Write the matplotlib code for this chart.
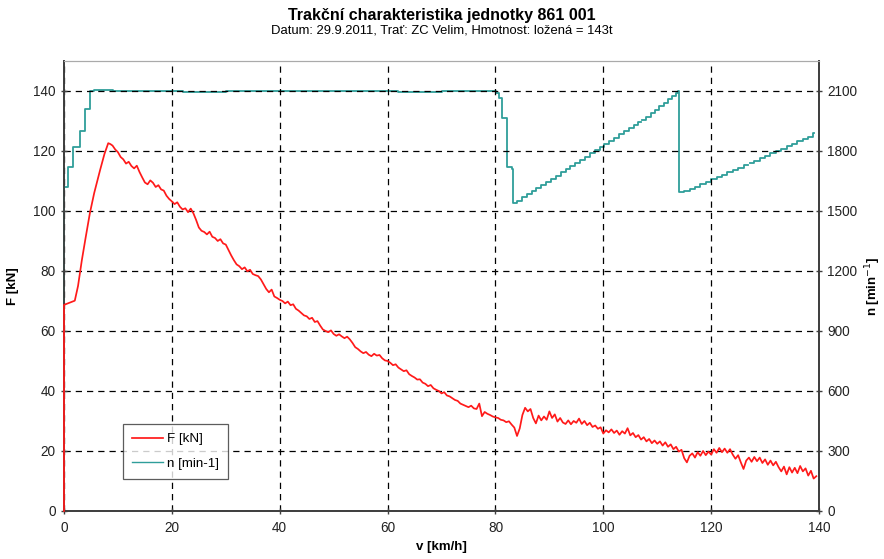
import numpy as np
import matplotlib
matplotlib.use("Agg")
import matplotlib.pyplot as plt

plt.rcParams['font.family'] = ['Liberation Sans', 'DejaVu Sans']

# ---- data ----
# tractive force, start-up part
v_start = [0, 0, 1.0, 2.0, 2.6, 3.3, 4.0, 4.8, 5.6, 6.7, 7.5, 8.2, 8.6]
f_start = [0, 68.7, 69.4, 70.1, 75.0, 83.5, 91.0, 99.3, 106.0, 113.7, 119.0, 122.6, 122.3]

# tractive force sampled every 0.5 km/h from 9.0 to 139.5
v_main = np.arange(9.0, 140.0, 0.5)
f_main = [
    121.8, 120.5, 119.6, 118.0, 117.2, 115.8, 116.4, 115.0, 114.2, 115.1,
    113.0, 111.2, 109.5, 108.9, 110.2, 109.4, 108.0, 108.6, 107.2, 106.8,
    105.1, 104.0, 103.2, 102.3, 102.9, 101.4, 100.5, 100.9, 99.6, 100.8,
    99.2, 97.0, 94.5, 93.4, 93.0, 92.2, 93.1, 91.4, 91.0, 90.0,
    90.6, 89.2, 88.8, 87.0, 85.2, 83.6, 82.2, 81.6, 80.6, 81.2,
    79.9, 80.4, 79.0, 78.6, 78.3, 77.2, 75.6, 74.0, 72.9, 73.8,
    71.5, 71.0, 70.4, 70.0, 69.2, 69.8, 68.6, 68.9, 67.4, 66.8,
    66.0, 65.2, 64.9, 64.0, 64.4, 63.0, 63.3, 61.8, 60.5, 60.0,
    59.6, 60.2, 59.0, 58.4, 58.9, 58.2, 57.6, 58.1, 57.2, 56.0,
    54.6, 54.0, 53.2, 52.6, 53.0, 52.1, 51.6, 52.4, 51.8, 52.0,
    50.9, 50.2, 50.0, 49.4, 48.6, 48.9, 47.8, 47.2, 46.6, 46.9,
    45.6, 45.0, 44.5, 43.8, 43.9, 42.8, 42.4, 41.6, 42.0, 40.9,
    40.4, 40.0, 39.2, 39.6, 38.5, 38.2, 37.6, 37.0, 36.7, 35.8,
    35.4, 35.0, 34.6, 35.1, 34.2, 34.0, 35.8, 31.6, 33.0, 32.4,
    32.0, 31.5, 31.2, 31.0, 30.4, 30.2, 29.6, 29.9, 28.8, 27.8,
    25.0, 27.5, 32.0, 34.4, 33.2, 34.0, 31.0, 29.2, 31.8, 30.2,
    31.5, 30.4, 33.2, 31.0, 32.2, 29.8, 31.0, 29.5, 29.0, 30.2,
    28.9, 30.0, 29.4, 30.8, 29.0, 30.0, 28.6, 29.4, 28.0, 28.5,
    27.4, 27.9, 25.8, 26.9, 26.2, 27.2, 26.0, 26.8, 25.4, 26.6,
    25.8, 27.6, 25.2, 26.0, 24.6, 25.3, 23.8, 24.6, 23.2, 24.0,
    22.6, 23.5, 22.4, 23.2, 21.8, 22.9, 21.4, 22.2, 20.6, 21.4,
    19.8, 20.4, 17.6, 16.2, 18.4, 19.2, 17.8, 19.6, 18.4, 20.0,
    18.6, 19.8, 18.8, 20.6, 19.4, 21.0, 19.6, 20.8, 19.4, 20.6,
    18.8, 17.4, 18.6, 16.2, 14.0, 16.8, 17.8, 16.4, 18.0, 16.6,
    17.8, 16.0, 17.2, 15.4, 16.8, 15.2, 16.4, 14.6, 13.2, 14.8,
    12.2, 14.6, 12.8, 14.4, 12.6, 15.0, 13.2, 14.2, 11.8, 13.4,
    10.8, 11.6,
]

# engine speed n [min-1] (step points)
v_n = [0, 0, 0.8, 1.7, 3.0, 3.9, 4.9, 5.6, 9, 15, 22, 30, 38, 46, 54, 62, 70, 76,
       80.1, 80.6, 81.3, 82.2, 83.1,
       83.2, 84.0, 84.9, 85.8, 86.7, 87.6, 88.5, 89.4, 90.3, 91.2, 92.1, 93.0,
       93.9, 94.8, 95.7, 96.6, 97.5, 98.4, 99.3, 100.2, 101.1, 102.0, 102.9,
       103.8, 104.7, 105.6, 106.5, 106.9, 107.2, 108.0, 108.8, 109.6, 110.4,
       111.2, 112.0, 112.8, 113.5, 113.9,
       114.0, 115.0, 116.0, 117.0, 118.0, 119.0, 120.0, 121.0, 122.0, 123.0,
       124.0, 125.0, 126.0, 126.8, 127.2, 128.0, 129.0, 130.0, 131.0, 132.0,
       133.0, 134.0, 135.0, 136.0, 137.0, 138.0, 138.9, 139.0]
n_val = [900, 1620, 1722, 1820, 1902, 2010, 2100, 2104, 2098, 2101, 2097, 2100, 2098, 2101, 2099, 2097, 2100, 2098,
         2088, 2064, 1964, 1722, 1712,
         1538, 1552, 1568, 1583, 1598, 1614, 1630, 1646, 1662, 1677, 1693, 1709,
         1724, 1740, 1756, 1772, 1788, 1804, 1820, 1836, 1852, 1867, 1883,
         1899, 1914, 1930, 1946, np.nan, 1955, 1972, 1990, 2007, 2024,
         2041, 2058, 2075, 2092, 2100,
         1597, 1600, 1610, 1622, 1634, 1646, 1658, 1670, 1682, 1694,
         1706, 1717, 1729, np.nan, 1741, 1752, 1764, 1776, 1788, 1800,
         1812, 1824, 1836, 1848, 1860, 1872, 1889, 1889]

v_f = np.concatenate([v_start, v_main])
f_val = np.concatenate([f_start, f_main])

red = '#ff1a1a'
teal = '#2f9e9a'

fig = plt.figure(figsize=(8.84, 5.59), dpi=100)
ax = fig.add_axes([0.0724, 0.0859, 0.8541, 0.8050])
ax2 = ax.twinx()

ax.plot(v_f, f_val, color=red, lw=1.25, zorder=3, clip_on=False, label='F [kN]')
ax2.plot(v_n, n_val, color=teal, lw=1.3, drawstyle='steps-post', clip_on=False, zorder=4)
ax.plot([], [], color=teal, lw=1.0, label='n [min-1]')

ax.set_xlim(0, 140)
ax.set_ylim(0, 150)
ax2.set_ylim(0, 2250)
ax.set_xticks(range(0, 141, 20))
ax.set_yticks(range(0, 141, 20))
ax2.set_yticks(range(0, 2101, 300))

ax.grid(True, color='black', lw=0.9, linestyle=(0, (5, 4)))
ax.set_axisbelow(True)

for a in (ax, ax2):
    a.tick_params(labelsize=9.8, direction='inout', length=5, width=1, colors='#404040',
                  labelcolor='#222222')
    for side in ('left', 'right', 'bottom'):
        a.spines[side].set_color('#404040')
        a.spines[side].set_linewidth(1.3)
    a.spines['top'].set_color('#aaaaaa')
ax.tick_params(axis='x', pad=5)

ax.set_xlabel('v [km/h]', fontsize=9.5, fontweight='bold', labelpad=4)
ax.set_ylabel('F [kN]', fontsize=9.5, fontweight='bold', labelpad=10)
ax2.set_ylabel('n [min$^{-1}$]', fontsize=9.5, fontweight='bold', labelpad=4, rotation=90)

ax.set_zorder(ax2.get_zorder() + 1)
ax.patch.set_visible(False)

leg = ax.legend(loc='lower left', bbox_to_anchor=(0.078, 0.071), borderaxespad=0,
                fontsize=9.6, frameon=True, fancybox=False, edgecolor='#333333',
                handlelength=2.3, labelspacing=0.9, borderpad=0.7, handletextpad=0.3)
leg.get_frame().set_linewidth(0.9)

fig.text(0.5, 0.985, 'Trakční charakteristika jednotky 861 001', ha='center', va='top',
         fontsize=11.5, fontweight='bold')
fig.text(0.5, 0.956, 'Datum: 29.9.2011, Trať: ZC Velim, Hmotnost: ložená = 143t', ha='center',
         va='top', fontsize=9.4)

fig.savefig('out.png', dpi=100)
